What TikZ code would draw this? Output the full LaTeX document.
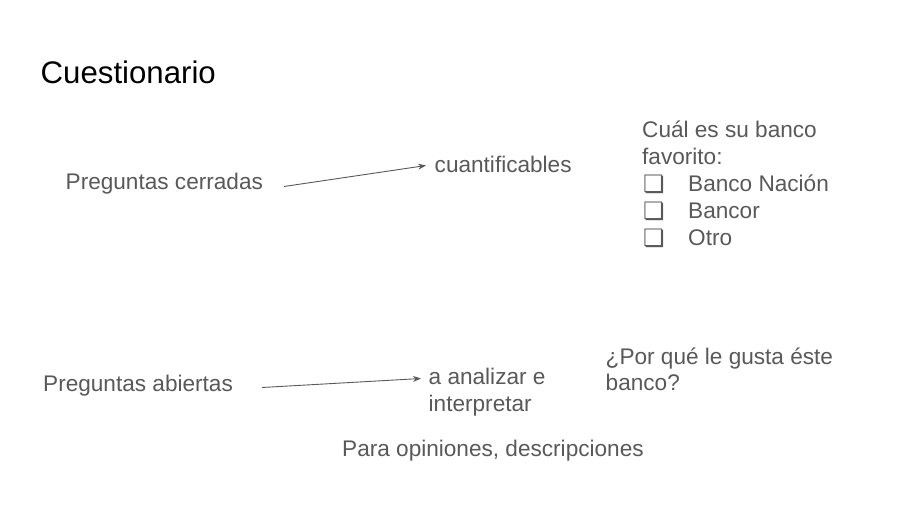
\documentclass[tikz,border=0pt]{standalone}
\usepackage{fontspec}
\setmainfont{Liberation Sans}
\newfontfamily\symfont{DejaVu Sans}
\usetikzlibrary{arrows.meta}
\definecolor{txtgray}{HTML}{595959}
\begin{document}
\begin{tikzpicture}[x=1pt,y=-1pt,
  lbl/.style={anchor=base west,inner sep=0pt,text=txtgray,font=\fontsize{22.6}{27}\selectfont},
  ttl/.style={anchor=base west,inner sep=0pt,text=black,font=\fontsize{31.2}{36}\selectfont},
  chk/.style={anchor=base west,inner sep=0pt,text=txtgray,font=\symfont\fontsize{24}{27}\selectfont},
  conn/.style={draw=txtgray,line width=0.9pt,-{Stealth[length=8pt,width=6pt]}}]
\useasboundingbox[fill=white] (0,0) rectangle (900,506);
\node[ttl] (title) at (40.5,83) {Cuestionario};
\node[lbl] (pc) at (65.5,189.5) {Preguntas cerradas};
\node[lbl] (cuant) at (434.5,172) {cuantificables};
\node[lbl] (q1) at (642,137) {Cuál es su banco};
\node[lbl] (q2) at (642,164) {favorito:};
\node[chk] (c1) at (643,192) {❏};
\node[lbl] (o1) at (688,191.5) {Banco Nación};
\node[chk] (c2) at (643,219) {❏};
\node[lbl] (o2) at (688,218.5) {Bancor};
\node[chk] (c3) at (643,246) {❏};
\node[lbl] (o3) at (688,245.5) {Otro};
\node[lbl] (pa) at (43,391.5) {Preguntas abiertas};
\node[lbl] (an1) at (428.5,384.5) {a analizar e};
\node[lbl] (an2) at (428.5,411) {interpretar};
\node[lbl] (pq1) at (605.5,364) {¿Por qué le gusta éste};
\node[lbl] (pq2) at (605.5,390.5) {banco?};
\node[lbl] (op) at (342,456.5) {Para opiniones, descripciones};
\coordinate (a1s) at (284,186.5);
\coordinate (a1e) at (426,165.5);
\coordinate (a2s) at (262,387.5);
\coordinate (a2e) at (421,378.5);
\draw[conn] (a1s) -- (a1e);
\draw[conn] (a2s) -- (a2e);
\end{tikzpicture}
\end{document}
